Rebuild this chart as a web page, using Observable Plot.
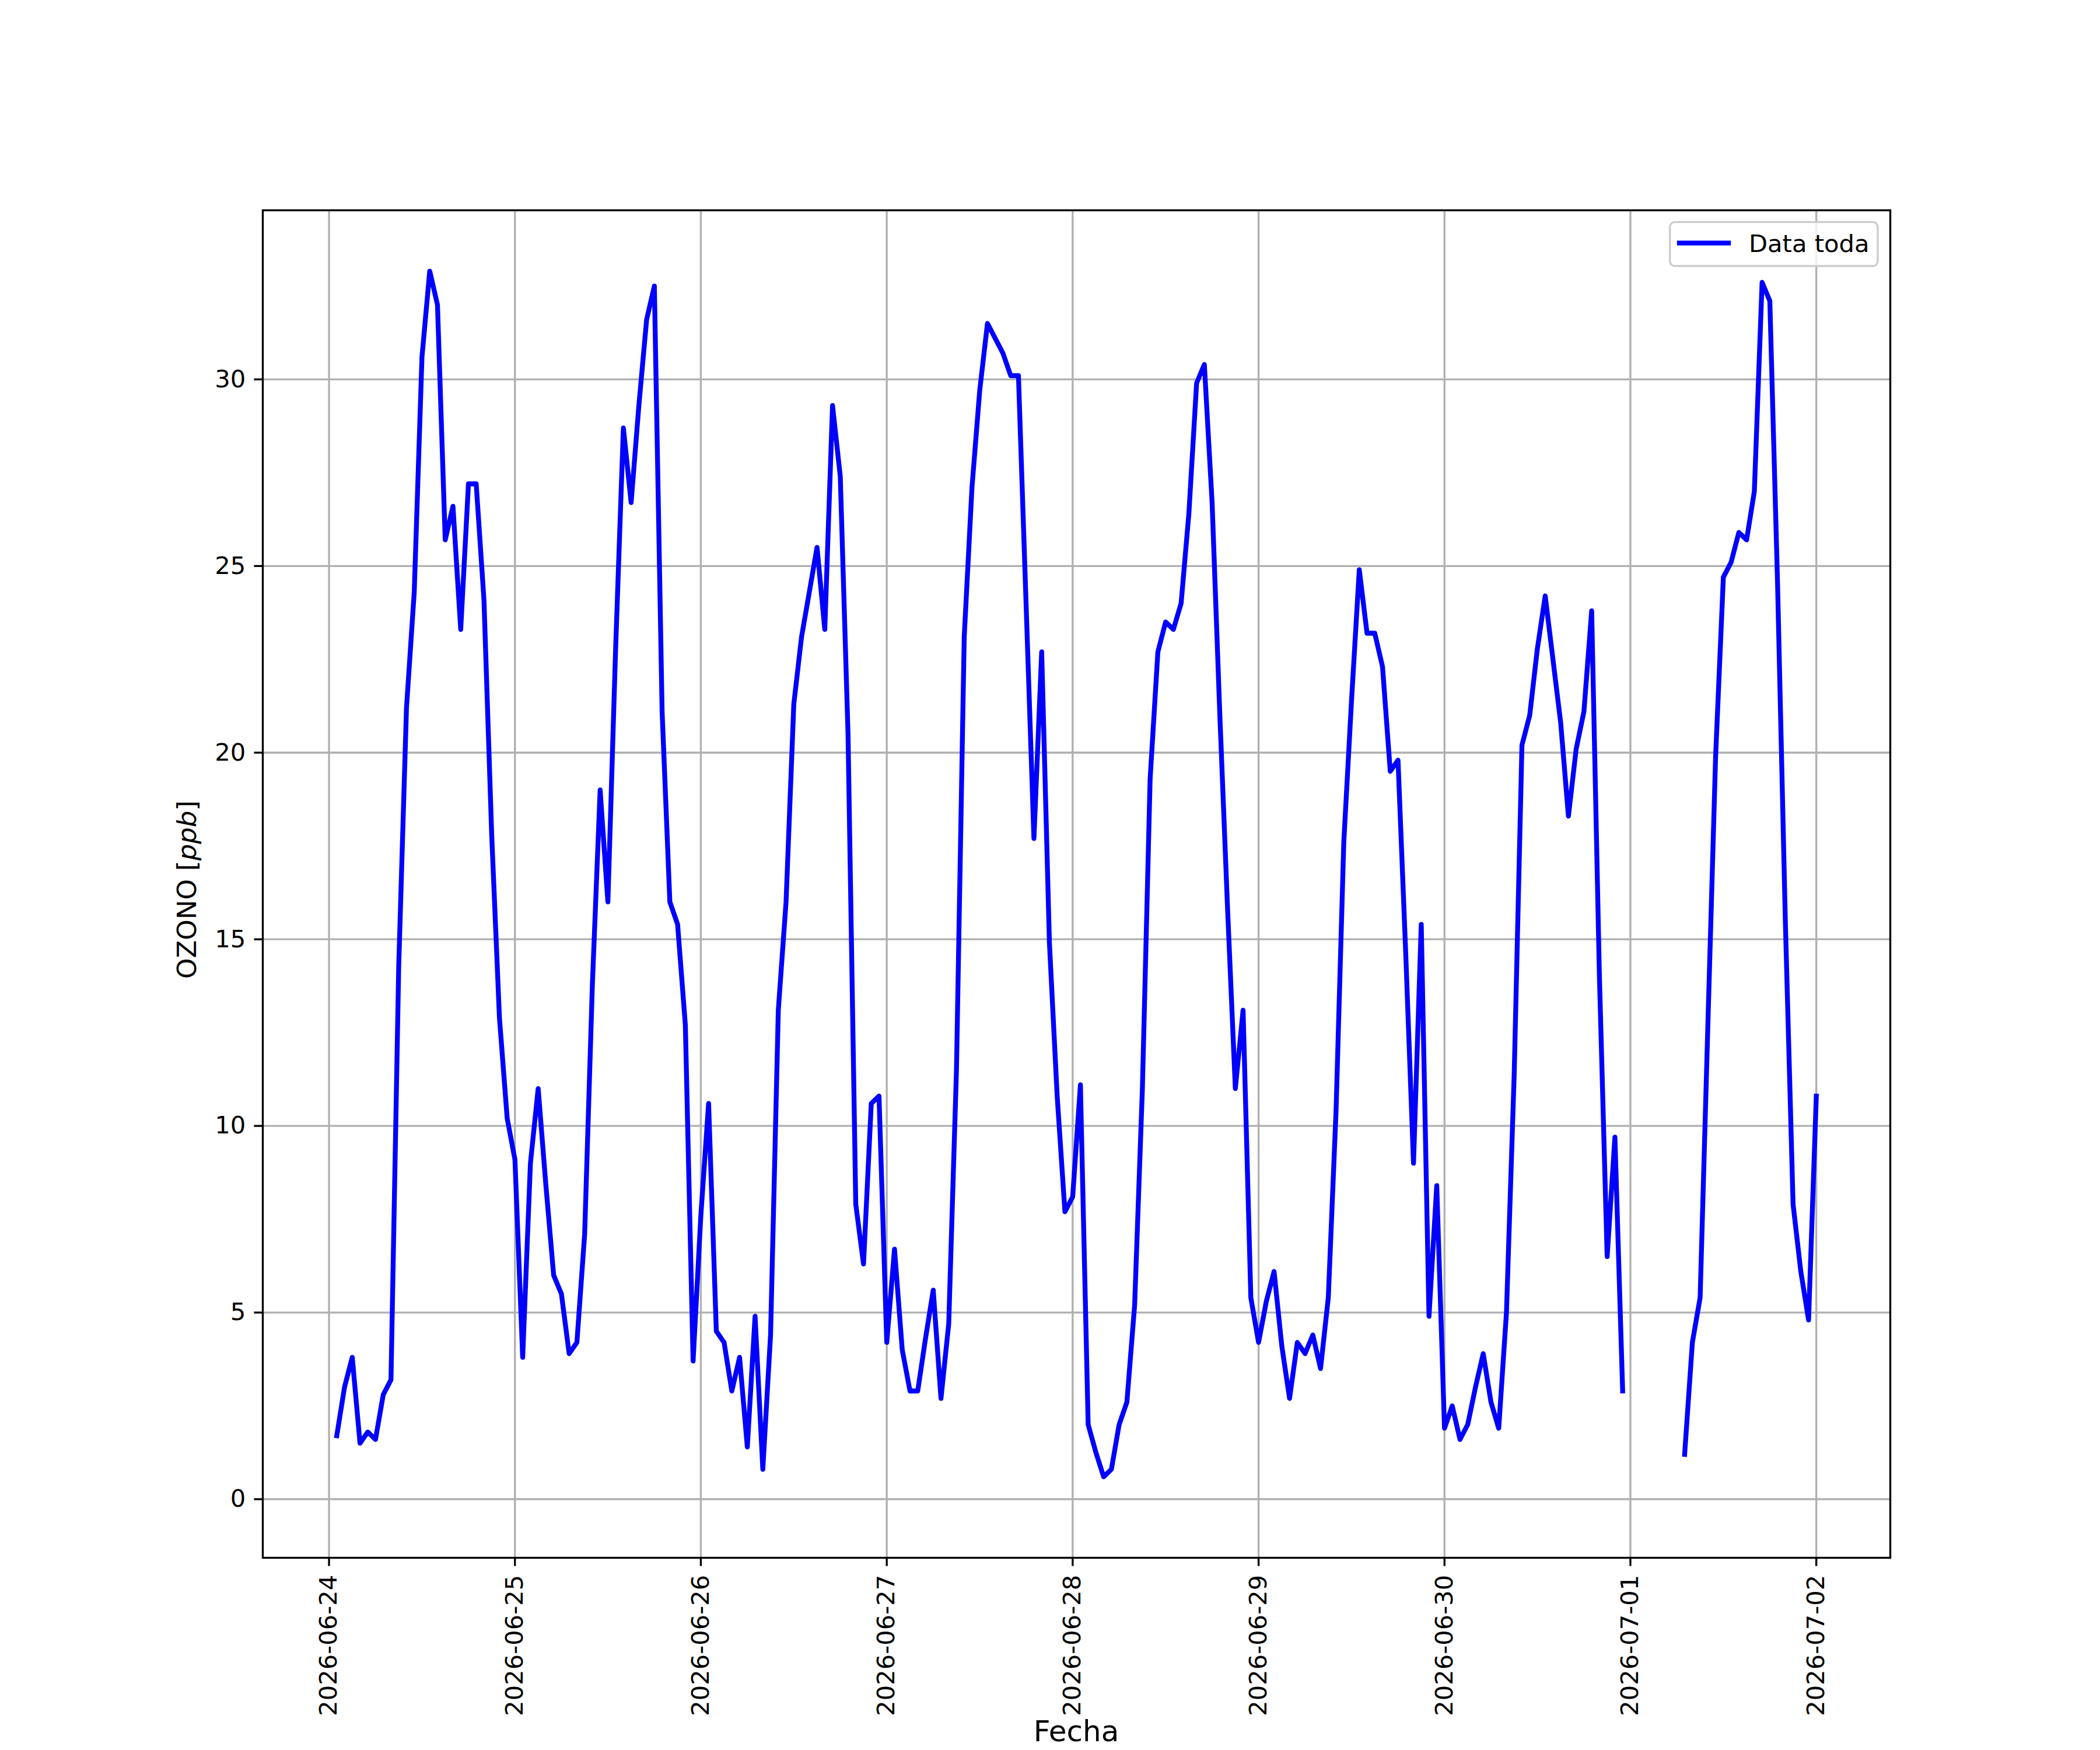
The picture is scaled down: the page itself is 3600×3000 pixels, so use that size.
<!DOCTYPE html>
<html>
<head>
<meta charset="utf-8">
<script src="https://cdn.jsdelivr.net/npm/d3@7"></script>
<script src="https://cdn.jsdelivr.net/npm/@observablehq/plot@0.6"></script>
<style>
  html, body { margin: 0; padding: 0; background: #ffffff; }
  #chart svg { display: block; }
</style>
</head>
<body>
<div id="chart"></div>
<script>
// Hourly OZONO values (ppb), hour 0..23 of each day; null = no data
const day0624 = [null, 1.7, 3.0, 3.8, 1.5, 1.8, 1.6, 2.8, 3.2, 14.3, 21.2, 24.3, 30.6, 32.9, 32.0, 25.7, 26.6, 23.3, 27.2, 27.2, 24.1, 17.8, 12.9, 10.2];
const day0625 = [9.1, 3.8, 9.0, 11.0, 8.4, 6.0, 5.5, 3.9, 4.2, 7.1, 13.8, 19.0, 16.0, 22.8, 28.7, 26.7, 29.3, 31.6, 32.5, 21.1, 16.0, 15.4, 12.7, 3.7];
const day0626 = [7.6, 10.6, 4.5, 4.2, 2.9, 3.8, 1.4, 4.9, 0.8, 4.4, 13.1, 16.0, 21.3, 23.1, 24.3, 25.5, 23.3, 29.3, 27.4, 20.5, 7.9, 6.3, 10.6, 10.8];
const day0627 = [4.2, 6.7, 4.0, 2.9, 2.9, 4.3, 5.6, 2.7, 4.7, 11.5, 23.1, 27.1, 29.7, 31.5, 31.1, 30.7, 30.1, 30.1, 23.9, 17.7, 22.7, 14.9, 10.8, 7.7];
const day0628 = [8.1, 11.1, 2.0, 1.25, 0.6, 0.8, 2.0, 2.6, 5.2, 11.0, 19.3, 22.7, 23.5, 23.3, 24.0, 26.4, 29.9, 30.4, 26.7, 21.0, 15.8, 11.0, 13.1, 5.4];
const day0629 = [4.2, 5.3, 6.1, 4.1, 2.7, 4.2, 3.9, 4.4, 3.5, 5.4, 10.4, 17.6, 21.4, 24.9, 23.2, 23.2, 22.3, 19.5, 19.8, 14.6, 9.0, 15.4, 4.9, 8.4];
const day0630 = [1.9, 2.5, 1.6, 2.0, 3.0, 3.9, 2.6, 1.9, 5.0, 11.4, 20.2, 21.0, 22.8, 24.2, 22.5, 20.8, 18.3, 20.1, 21.1, 23.8, 14.0, 6.5, 9.7, 2.9];
const day0701 = [null, null, null, null, null, null, null, 1.2, 4.2, 5.4, 12.7, 19.9, 24.7, 25.1, 25.9, 25.7, 27.0, 32.6, 32.1, 24.5, 15.5, 7.9, 6.1, 4.8];
const day0702 = [10.8];

const dayStarts = ["2026-06-24", "2026-06-25", "2026-06-26", "2026-06-27", "2026-06-28", "2026-06-29", "2026-06-30", "2026-07-01", "2026-07-02"];
const dayValues = [day0624, day0625, day0626, day0627, day0628, day0629, day0630, day0701, day0702];

const xTicks = dayStarts.map(d => new Date(d + "T00:00:00Z"));
const yTicks = [0, 5, 10, 15, 20, 25, 30];
const seriesLabel = "Data toda";
const xLabel = "Fecha";
const yLabelParts = ["OZONO [", "ppb", "]"];

const rows = [];
dayStarts.forEach((d, i) => {
  const t0 = Date.parse(d + "T00:00:00Z");
  dayValues[i].forEach((v, h) => rows.push({ t: new Date(t0 + h * 3600e3), v: v }));
});

const FS = 41.67;
const plot = Plot.plot({
  width: 3600,
  height: 3000,
  marginLeft: 450,
  marginRight: 360,
  marginTop: 360,
  marginBottom: 330,
  style: { fontFamily: "'DejaVu Sans', sans-serif", fontSize: FS + "px", background: "#ffffff", color: "#000000" },
  x: { type: "utc", domain: [new Date("2026-06-23T15:27:00Z"), new Date("2026-07-02T09:33:00Z")] },
  y: { domain: [-1.57, 34.53] },
  marks: [
    Plot.gridX({ ticks: xTicks, stroke: "#b0b0b0", strokeOpacity: 1, strokeWidth: 3.33 }),
    Plot.gridY({ ticks: yTicks, stroke: "#b0b0b0", strokeOpacity: 1, strokeWidth: 3.33 }),
    Plot.line(rows, { x: "t", y: "v", stroke: "#0000ff", strokeWidth: 8.33, strokeLinejoin: "round", strokeLinecap: "square" }),
    Plot.frame({ stroke: "#000000", strokeWidth: 3.33 }),
    Plot.axisX({ ticks: xTicks, tickSize: 14.6, strokeWidth: 3.33, tickPadding: 14.6, tickRotate: -90,
                 tickFormat: d3.utcFormat("%Y-%m-%d"), fontSize: FS, label: null }),
    Plot.axisY({ ticks: yTicks, tickSize: 14.6, strokeWidth: 3.33, tickPadding: 14.6, fontSize: FS, label: null,
                 tickFormat: d => String(d) })
  ]
});

document.getElementById("chart").appendChild(plot);

// legend and axis titles
const svg = d3.select(plot);
const g = svg.append("g").attr("font-family", "'DejaVu Sans', sans-serif").attr("font-size", FS)
  .attr("fill", "#000000").attr("text-anchor", "start");
g.append("rect")
  .attr("x", 2862.7).attr("y", 380.7).attr("width", 356.3).attr("height", 75.3).attr("rx", 8.3)
  .attr("fill", "#ffffff").attr("fill-opacity", 0.8).attr("stroke", "#cccccc").attr("stroke-width", 3.33);
g.append("line")
  .attr("x1", 2879).attr("x2", 2963).attr("y1", 416.7).attr("y2", 416.7)
  .attr("stroke", "#0000ff").attr("stroke-width", 8.33).attr("stroke-linecap", "square");
g.append("text").attr("x", 2998).attr("y", 431.7).attr("text-anchor", "start").text(seriesLabel);

g.append("text").attr("x", 1845).attr("y", 2985).attr("font-size", 50).attr("text-anchor", "middle").text(xLabel);

const yl = g.append("text").attr("transform", "translate(336,1525) rotate(-90)")
  .attr("font-size", 45).attr("text-anchor", "middle");
yl.append("tspan").text(yLabelParts[0]);
yl.append("tspan").attr("font-style", "italic").text(yLabelParts[1]);
yl.append("tspan").text(yLabelParts[2]);
</script>
</body>
</html>
